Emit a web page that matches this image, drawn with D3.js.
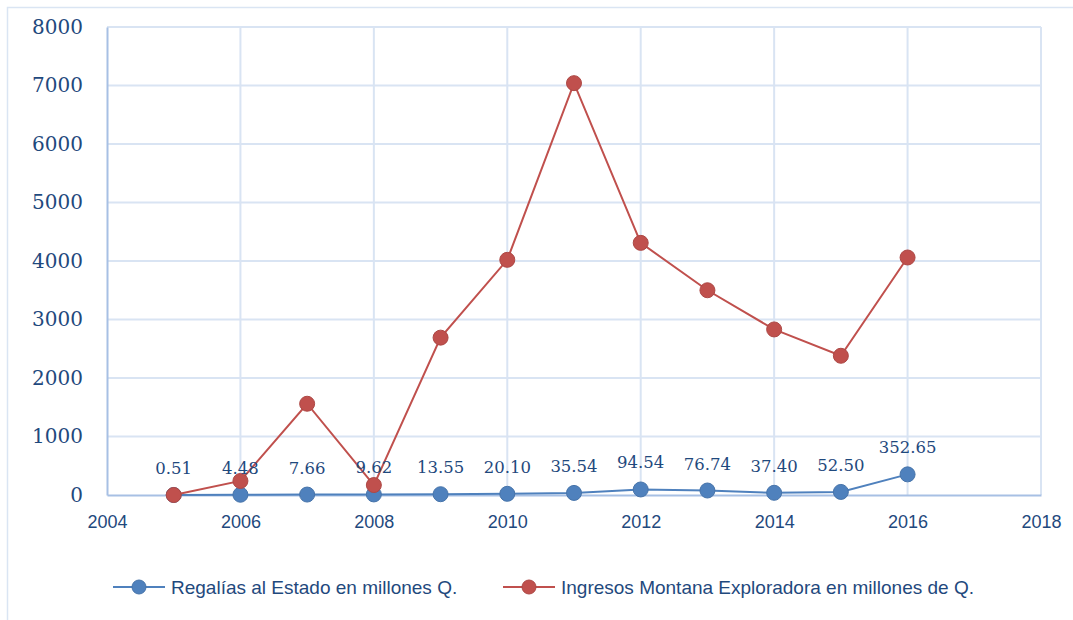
<!DOCTYPE html>
<html>
<head>
<meta charset="utf-8">
<script src="https://cdn.jsdelivr.net/npm/d3@7"></script>
<style>
  body { margin: 0; background: #fff; }
  svg { display: block; }
</style>
</head>
<body>
<div id="chart"></div>
<script>
// datos por año
var years = [2005, 2006, 2007, 2008, 2009, 2010, 2011, 2012, 2013, 2014, 2015, 2016];
var regalias = [0.51, 4.48, 7.66, 9.62, 13.55, 20.10, 35.54, 94.54, 76.74, 37.40, 52.50, 352.65];
var ingresos = [0, 240, 1560, 170, 2690, 4020, 7040, 4310, 3500, 2830, 2380, 4060];
var xTicks = [2004, 2006, 2008, 2010, 2012, 2014, 2016, 2018];
var yTicks = [0, 1000, 2000, 3000, 4000, 5000, 6000, 7000, 8000];
var seriesNames = ["Regalías al Estado en millones Q.", "Ingresos Montana Exploradora en millones de Q."];

var width = 1073,
    height = 620;

var textColor = "#1f497d",
    gridColor = "#d9e4f3",
    axisColor = "#a7c0e4",
    blue = "#4f81bd",
    red = "#c0504d";

var svg = d3.select("#chart").append("svg")
    .attr("width", width)
    .attr("height", height);

// outer frame
svg.append("rect")
    .attr("x", 7.5).attr("y", 7.5)
    .attr("width", width + 20).attr("height", height + 20)
    .attr("fill", "none")
    .attr("stroke", "#dae5f3")
    .attr("stroke-width", 1.5);

var xScale = d3.scaleLinear().domain([2004, 2018]).range([107, 1041]);
var yScale = d3.scaleLinear().domain([0, 8000]).range([495, 27]);

// grid
svg.append("g").selectAll("line")
    .data(yTicks.filter(function(d) { return d > 0; }))
    .enter().append("line")
    .attr("x1", xScale(2004)).attr("x2", xScale(2018))
    .attr("y1", function(d) { return yScale(d); })
    .attr("y2", function(d) { return yScale(d); })
    .attr("stroke", gridColor).attr("stroke-width", 2);

svg.append("g").selectAll("line")
    .data(xTicks.filter(function(d) { return d > 2004; }))
    .enter().append("line")
    .attr("x1", function(d) { return xScale(d); })
    .attr("x2", function(d) { return xScale(d); })
    .attr("y1", yScale(0)).attr("y2", yScale(8000))
    .attr("stroke", gridColor).attr("stroke-width", 2);

// axes
var yaxis = d3.axisLeft(yScale).tickValues(yTicks).tickSize(0).tickPadding(24)
    .tickFormat(d3.format("d"));
var xaxis = d3.axisBottom(xScale).tickValues(xTicks).tickSize(0).tickPadding(20)
    .tickFormat(d3.format("d"));

var gy = svg.append("g")
    .attr("transform", "translate(" + xScale(2004) + ",0)")
    .call(yaxis);
gy.select(".domain").attr("stroke", axisColor).attr("stroke-width", 2);
gy.selectAll("text")
    .attr("fill", textColor)
    .style("font-family", "'DejaVu Serif', serif")
    .style("font-size", "20px");

var gx = svg.append("g")
    .attr("transform", "translate(0," + yScale(0) + ")")
    .call(xaxis);
gx.select(".domain").attr("stroke", axisColor).attr("stroke-width", 2);
gx.selectAll("text")
    .attr("fill", textColor)
    .style("font-family", "'Liberation Sans', Arial, sans-serif")
    .style("font-size", "18px");

// series
var slice = [
  { id: seriesNames[0], color: blue, values: years.map(function(y, i) { return { year: y, v: regalias[i] }; }) },
  { id: seriesNames[1], color: red, values: years.map(function(y, i) { return { year: y, v: ingresos[i] }; }) }
];

var line = d3.line()
    .x(function(d) { return xScale(d.year); })
    .y(function(d) { return yScale(d.v); });

// blue first so red covers it at 2005, like the picture
var lines = svg.selectAll(".series")
    .data(slice)
    .enter().append("g")
    .attr("class", "series");

lines.append("path")
    .attr("d", function(d) { return line(d.values); })
    .attr("fill", "none")
    .attr("stroke", function(d) { return d.color; })
    .attr("stroke-width", 2);

lines.each(function(s) {
  d3.select(this).selectAll("circle")
      .data(s.values)
      .enter().append("circle")
      .attr("cx", function(d) { return xScale(d.year); })
      .attr("cy", function(d) { return yScale(d.v); })
      .attr("r", 7.5)
      .attr("fill", s.color)
      .attr("stroke", d3.color(s.color).darker(0.3))
      .attr("stroke-width", 1);
});

// data labels for regalias
svg.append("g").selectAll("text")
    .data(slice[0].values)
    .enter().append("text")
    .attr("x", function(d) { return xScale(d.year); })
    .attr("y", function(d) { return yScale(d.v) - 21; })
    .attr("text-anchor", "middle")
    .attr("fill", textColor)
    .style("font-family", "'DejaVu Serif', serif")
    .style("font-size", "16.5px")
    .text(function(d) { return d.v.toFixed(2); });

// legend
var legend = svg.append("g");
var legendX = [113, 503];
slice.forEach(function(s, i) {
  var g = legend.append("g").attr("transform", "translate(" + legendX[i] + ",587)");
  g.append("line").attr("x1", 0).attr("x2", 52)
      .attr("stroke", s.color).attr("stroke-width", 2);
  g.append("circle").attr("cx", 26).attr("r", 7)
      .attr("fill", s.color)
      .attr("stroke", d3.color(s.color).darker(0.3));
  g.append("text").attr("x", 58).attr("y", 6.5)
      .attr("fill", textColor)
      .style("font-family", "'Liberation Sans', Arial, sans-serif")
      .style("font-size", "19px")
      .text(s.id);
});
</script>
</body>
</html>
